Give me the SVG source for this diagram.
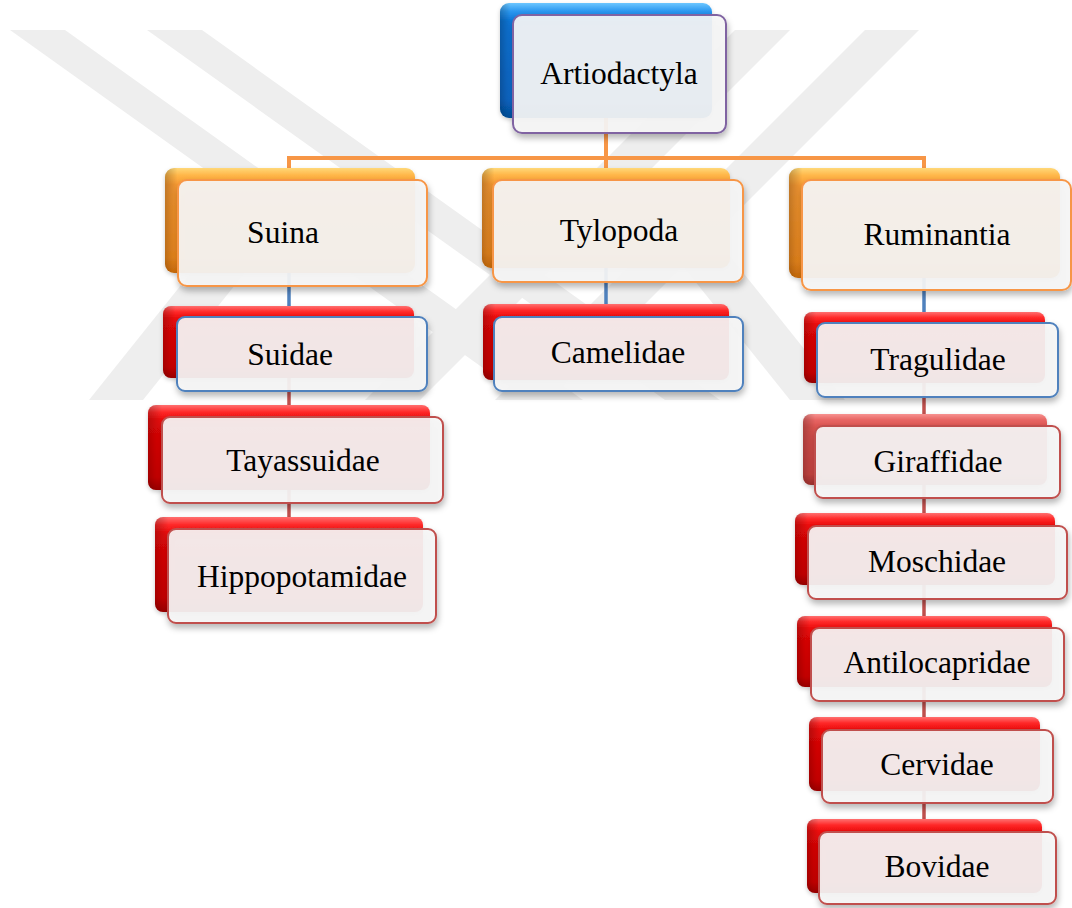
<svg xmlns="http://www.w3.org/2000/svg" width="1072" height="908" viewBox="0 0 1072 908">
<style>
.bg{fill:#ffffff}
.wm{fill:#eeeeee}
.conn{fill:none;stroke-width:4;stroke-linecap:butt}
.c-or{stroke:#f79646}
.c-bl{stroke:#4f81bd;stroke-width:3.5}
.c-rd{stroke:#c0504d;stroke-width:3.5}
.back{rx:8px}
.shade{fill:url(#gL)}
.front{fill:#f6f6f6;fill-opacity:0.92;stroke-width:2;filter:url(#sh)}
.f-pu{stroke:#8064a2}
.f-or{stroke:#f79646}
.f-bl{stroke:#4f81bd}
.f-rd{stroke:#c0504d}
.lbl{font-family:"Liberation Serif","Times New Roman",serif;font-size:31.5px;fill:#000;text-anchor:middle}
</style>
<defs>
<linearGradient id="gB" x1="0" y1="0" x2="0" y2="1">
<stop offset="0" stop-color="#6cc6ff"/><stop offset="0.07" stop-color="#2b98f0"/><stop offset="0.16" stop-color="#0b74d6"/><stop offset="0.85" stop-color="#0866c6"/><stop offset="1" stop-color="#04509e"/>
</linearGradient>
<linearGradient id="gO" x1="0" y1="0" x2="0" y2="1">
<stop offset="0" stop-color="#ffd878"/><stop offset="0.07" stop-color="#ffb648"/><stop offset="0.16" stop-color="#f89a32"/><stop offset="0.85" stop-color="#f08a1e"/><stop offset="1" stop-color="#d6720c"/>
</linearGradient>
<linearGradient id="gR" x1="0" y1="0" x2="0" y2="1">
<stop offset="0" stop-color="#ff7070"/><stop offset="0.08" stop-color="#ff2a2a"/><stop offset="0.18" stop-color="#ea0808"/><stop offset="0.85" stop-color="#d20000"/><stop offset="1" stop-color="#a50000"/>
</linearGradient>
<linearGradient id="gR2" x1="0" y1="0" x2="0" y2="1">
<stop offset="0" stop-color="#f79290"/><stop offset="0.08" stop-color="#e86664"/><stop offset="0.18" stop-color="#db5350"/><stop offset="0.85" stop-color="#cf4643"/><stop offset="1" stop-color="#a83431"/>
</linearGradient>
<linearGradient id="gL" x1="0" y1="0" x2="1" y2="0">
<stop offset="0" stop-color="#000" stop-opacity="0.22"/><stop offset="0.05" stop-color="#000" stop-opacity="0"/><stop offset="1" stop-color="#000" stop-opacity="0"/>
</linearGradient>
<filter id="sh" x="-10%" y="-10%" width="125%" height="135%">
<feDropShadow dx="1" dy="4" stdDeviation="3" flood-color="#000" flood-opacity="0.3"/>
</filter>
<filter id="shb" x="-10%" y="-10%" width="125%" height="135%">
<feDropShadow dx="0" dy="2" stdDeviation="2" flood-color="#000" flood-opacity="0.2"/>
</filter>
</defs>
<rect class="bg" x="0" y="0" width="1072" height="908"/>
<g id="watermark">
<polygon class="wm" points="10,30 65,30 583,400 528,400"/>
<polygon class="wm" points="147,30 202,30 720,400 665,400"/>
<polygon class="wm" points="735,30 790,30 420,400 365,400"/>
<polygon class="wm" points="865,30 919,30 549,400 495,400"/>
<polygon class="wm" points="89,400 143,400 303,200 249,200"/>
<polygon class="wm" points="790,400 845,400 685,200 630,200"/>
</g>
<g id="connectors">
<path class="conn c-or" d="M606,60 V220 M289,158 H924 M289,156 V215 M924,156 V215"/>
<path class="conn c-bl" d="M289,240 V342 M606,240 V342 M924,240 V348"/>
<path class="conn c-rd" d="M289,342 V565 M924,348 V856"/>
</g>
<g id="n-artiodactyla">
<rect x="500" y="3" width="212" height="115" rx="9" fill="url(#gB)" filter="url(#shb)"/>
<rect x="500" y="3" width="212" height="115" rx="9" class="shade"/>
<rect class="front f-pu" x="513" y="15" width="213" height="118" rx="9"/>
<text class="lbl" x="619" y="84">Artiodactyla</text>
</g>
<g id="n-suina">
<rect x="165" y="168" width="250" height="105" rx="9" fill="url(#gO)" filter="url(#shb)"/>
<rect x="165" y="168" width="250" height="105" rx="9" class="shade"/>
<rect class="front f-or" x="178" y="180" width="249" height="106" rx="9"/>
<text class="lbl" x="283" y="243">Suina</text>
</g>
<g id="n-tylopoda">
<rect x="482" y="168" width="248" height="100" rx="9" fill="url(#gO)" filter="url(#shb)"/>
<rect x="482" y="168" width="248" height="100" rx="9" class="shade"/>
<rect class="front f-or" x="493" y="180" width="250" height="102" rx="9"/>
<text class="lbl" x="619" y="241">Tylopoda</text>
</g>
<g id="n-ruminantia">
<rect x="789" y="168" width="271" height="110" rx="9" fill="url(#gO)" filter="url(#shb)"/>
<rect x="789" y="168" width="271" height="110" rx="9" class="shade"/>
<rect class="front f-or" x="802" y="180" width="269" height="110" rx="9"/>
<text class="lbl" x="937" y="245">Ruminantia</text>
</g>
<g id="n-suidae">
<rect x="163" y="306" width="251" height="72" rx="8" fill="url(#gR)" filter="url(#shb)"/>
<rect x="163" y="306" width="251" height="72" rx="8" class="shade"/>
<rect class="front f-bl" x="177" y="317" width="250" height="74" rx="8"/>
<text class="lbl" x="290" y="365">Suidae</text>
</g>
<g id="n-camelidae">
<rect x="483" y="304" width="246" height="76" rx="8" fill="url(#gR)" filter="url(#shb)"/>
<rect x="483" y="304" width="246" height="76" rx="8" class="shade"/>
<rect class="front f-bl" x="494" y="317" width="249" height="74" rx="8"/>
<text class="lbl" x="618" y="363">Camelidae</text>
</g>
<g id="n-tragulidae">
<rect x="804" y="312" width="241" height="71" rx="8" fill="url(#gR)" filter="url(#shb)"/>
<rect x="804" y="312" width="241" height="71" rx="8" class="shade"/>
<rect class="front f-bl" x="817" y="323" width="241" height="74" rx="8"/>
<text class="lbl" x="938" y="370">Tragulidae</text>
</g>
<g id="n-tayassuidae">
<rect x="148" y="405" width="282" height="85" rx="8" fill="url(#gR)" filter="url(#shb)"/>
<rect x="148" y="405" width="282" height="85" rx="8" class="shade"/>
<rect class="front f-rd" x="162" y="417" width="281" height="86" rx="8"/>
<text class="lbl" x="303" y="471">Tayassuidae</text>
</g>
<g id="n-hippopotamidae">
<rect x="155" y="517" width="268" height="95" rx="8" fill="url(#gR)" filter="url(#shb)"/>
<rect x="155" y="517" width="268" height="95" rx="8" class="shade"/>
<rect class="front f-rd" x="168" y="529" width="268" height="94" rx="8"/>
<text class="lbl" x="302" y="587">Hippopotamidae</text>
</g>
<g id="n-giraffidae">
<rect x="803" y="414" width="244" height="71" rx="8" fill="url(#gR2)" filter="url(#shb)"/>
<rect x="803" y="414" width="244" height="71" rx="8" class="shade"/>
<rect class="front f-rd" x="815" y="426" width="245" height="72" rx="8"/>
<text class="lbl" x="938" y="472">Giraffidae</text>
</g>
<g id="n-moschidae">
<rect x="795" y="513" width="260" height="72" rx="8" fill="url(#gR)" filter="url(#shb)"/>
<rect x="795" y="513" width="260" height="72" rx="8" class="shade"/>
<rect class="front f-rd" x="808" y="526" width="259" height="73" rx="8"/>
<text class="lbl" x="937" y="572">Moschidae</text>
</g>
<g id="n-antilocapridae">
<rect x="797" y="616" width="255" height="71" rx="8" fill="url(#gR)" filter="url(#shb)"/>
<rect x="797" y="616" width="255" height="71" rx="8" class="shade"/>
<rect class="front f-rd" x="811" y="628" width="253" height="73" rx="8"/>
<text class="lbl" x="937" y="673">Antilocapridae</text>
</g>
<g id="n-cervidae">
<rect x="809" y="717" width="231" height="74" rx="8" fill="url(#gR)" filter="url(#shb)"/>
<rect x="809" y="717" width="231" height="74" rx="8" class="shade"/>
<rect class="front f-rd" x="822" y="730" width="231" height="73" rx="8"/>
<text class="lbl" x="937" y="775">Cervidae</text>
</g>
<g id="n-bovidae">
<rect x="807" y="819" width="235" height="74" rx="8" fill="url(#gR)" filter="url(#shb)"/>
<rect x="807" y="819" width="235" height="74" rx="8" class="shade"/>
<rect class="front f-rd" x="819" y="832" width="237" height="72" rx="8"/>
<text class="lbl" x="937" y="877">Bovidae</text>
</g>
</svg>
